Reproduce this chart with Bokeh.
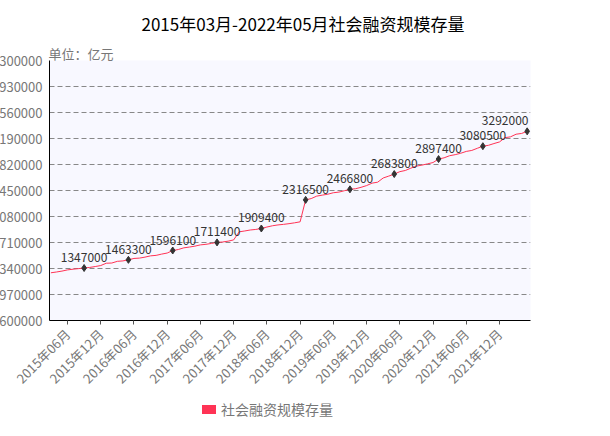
import math
from bokeh.plotting import figure
from bokeh.models import FixedTicker, Range1d, Div, Title, ColumnDataSource
from bokeh.layouts import column
from bokeh.embed import file_html
from bokeh.resources import INLINE
from bokeh.core.properties import value

FONT = "Noto Sans CJK SC"

# Months 2015-03 .. 2022-05
months = []
for yy in range(2015, 2023):
    for mm in range(1, 13):
        if (yy == 2015 and mm < 3) or (yy == 2022 and mm > 5):
            continue
        months.append(f"{yy}年{mm:02d}月")

# 社会融资规模存量 (亿元)
values = [
    1279000, 1290000, 1303000, 1320000, 1330000, 1338000,
    1347000, 1355000, 1368000, 1382000,
    1415000, 1418000, 1442000, 1448000, 1463300, 1483000, 1488000, 1502000, 1520000, 1527000, 1545000, 1560000,
    1596100, 1610000, 1634000, 1645000, 1658000, 1676000, 1684000, 1697000, 1711400, 1717000, 1729000, 1747000,
    1862000, 1874000, 1888000, 1896000, 1909400, 1930000, 1948000, 1960000, 1968000, 1978000, 1990000, 2004000,
    2316500, 2335000, 2370000, 2384000, 2397000, 2418000, 2427000, 2447000, 2466800, 2475000, 2495000, 2520000,
    2555000, 2568000, 2628000, 2655000, 2683800, 2718000, 2735000, 2768000, 2797000, 2811000, 2829000, 2848000,
    2897400, 2915000, 2945000, 2960000, 2980000, 3006000, 3020000, 3051000, 3080500, 3093000, 3118000, 3141000,
    3202000, 3214000, 3251000, 3262000, 3292000,
]

marker_idx = [6, 14, 22, 30, 38, 46, 54, 62, 70, 78, 86]
x_tick_idx = [3, 9, 15, 21, 27, 33, 39, 45, 51, 57, 63, 69, 75, 81]
y_ticks = [600000, 970000, 1340000, 1710000, 2080000, 2450000, 2820000,
           3190000, 3560000, 3930000, 4300000]

title = "2015年03月-2022年05月社会融资规模存量"
series_name = "社会融资规模存量"
unit_text = "单位：亿元"

p = figure(width=622, height=397, output_backend="svg", toolbar_location=None,
           x_range=Range1d(-0.25, 86.6), y_range=Range1d(600000, 4300000),
           min_border_left=59, min_border_right=68, min_border_top=60,
           min_border_bottom=77, title=title, margin=(0, 0, 0, -12))

# main title (outermost)
p.title.align = "left"
p.title.offset = 92
p.title.standoff = 16
p.title.text_font = FONT
p.title.text_font_size = "17px"
p.title.text_font_style = "normal"
p.title.text_color = "#000000"

# unit text (nearest to the frame)
unit_title = Title(text=unit_text, align="left", offset=-1, standoff=-4,
                   text_font=FONT, text_font_size="13px",
                   text_font_style="normal", text_color="#777777")
p.add_layout(unit_title, "above")

p.background_fill_color = "#f8f8ff"
p.border_fill_color = "#ffffff"
p.outline_line_color = None

p.xgrid.visible = False
p.ygrid.grid_line_color = "#888888"
p.ygrid.grid_line_dash = "5 3"
p.ygrid.grid_line_width = 1

p.yaxis.ticker = FixedTicker(ticks=y_ticks)
p.yaxis.major_label_overrides = {t: str(t) for t in y_ticks}
p.yaxis.major_label_text_font = FONT
p.yaxis.major_label_text_font_size = "13px"
p.yaxis.major_label_text_color = "#777777"
p.yaxis.major_tick_out = 0
p.yaxis.major_tick_in = 0
p.yaxis.minor_tick_out = 0
p.yaxis.minor_tick_in = 0
p.yaxis.axis_line_color = "#000000"
p.yaxis.major_label_standoff = 7

p.xaxis.ticker = FixedTicker(ticks=x_tick_idx)
p.xaxis.major_label_overrides = {i: months[i] for i in x_tick_idx}
p.xaxis.major_label_orientation = math.pi / 4
p.xaxis.major_label_text_font = FONT
p.xaxis.major_label_text_font_size = "13px"
p.xaxis.major_label_text_color = "#777777"
p.xaxis.major_label_standoff = 7
p.xaxis.major_tick_out = 4
p.xaxis.major_tick_in = 0
p.xaxis.minor_tick_out = 0
p.xaxis.minor_tick_in = 0
p.xaxis.axis_line_color = "#000000"
p.xaxis.major_tick_line_color = "#555555"

xs = list(range(len(values)))
p.line(x=xs, y=values, line_color="#ff3355", line_width=1)

my = [values[i] for i in marker_idx]
# keep the last value label inside the plot area
label_dx = [0] * (len(marker_idx) - 1) + [-22]
src = ColumnDataSource(dict(x=marker_idx, y=my, label=[str(v) for v in my],
                            dx=label_dx))
p.scatter(x="x", y="y", source=src, marker="diamond", size=7, color="#333333")
p.text(x="x", y="y", text="label", source=src, x_offset="dx",
       text_align="center", text_baseline="bottom", y_offset=-6,
       text_font=value(FONT), text_font_size="12px", text_color="#333333")

legend_div = Div(
    text=(
        '<div style="display:flex;align-items:center;height:24px;'
        'padding-left:202px;font-family:\'Noto Sans CJK SC\';font-size:14px;'
        'color:#777777;">'
        '<span style="display:inline-block;width:14px;height:9px;'
        'background:#ff3355;margin-right:5px;"></span>'
        + series_name + '</div>'
    ),
    width=610, height=39, margin=(0, 0, 0, 0),
)

layout = column(p, legend_div, spacing=0)

open("out.html", "w").write(file_html(layout, INLINE))
